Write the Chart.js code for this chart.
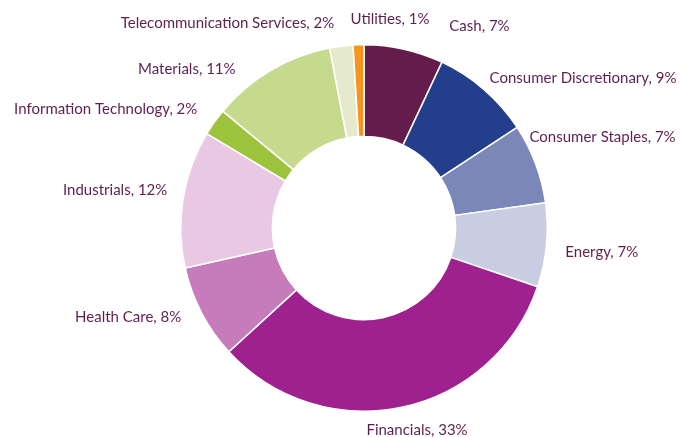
<!DOCTYPE html>
<html>
<head>
<meta charset="utf-8">
<script src="https://cdn.jsdelivr.net/npm/chart.js@4/dist/chart.umd.min.js"></script>
<style>
  html, body { margin: 0; padding: 0; background: #fff; }
</style>
</head>
<body>
<canvas id="sectorChart" width="681" height="437"></canvas>
<script>
const sectors = ['Cash', 'Consumer Discretionary', 'Consumer Staples', 'Energy', 'Financials',
    'Health Care', 'Industrials', 'Information Technology', 'Materials',
    'Telecommunication Services', 'Utilities'];
const weights = [7.0, 8.75, 7.05, 7.4, 33.0, 8.3, 12.1, 2.4, 11.0, 2.05, 0.95];
const sliceColors = ['#631c4b', '#233e8a', '#7a87b8', '#c8cde2', '#9e218e',
    '#c67bba', '#e9c8e3', '#9dc23c', '#c5da8c', '#e4eacb', '#f7941d'];

// small hand nudges so labels sit where the original put them
const labelNudge = [[72, -1], [-5, 6], [-21, -18], [3, 5], [12, 0],
    [-6, -6], [0, -5], [-4, 0], [-27, 19], [-5, 0], [32, -3]];

const outsideLabels = {
    id: 'outsideLabels',
    afterDatasetsDraw(chart) {
        const ctx = chart.ctx;
        const meta = chart.getDatasetMeta(0);
        const values = chart.data.datasets[0].data;
        ctx.save();
        ctx.font = '15px Lato';
        ctx.fillStyle = '#5e1f4f';
        ctx.textBaseline = 'middle';
        meta.data.forEach((arc, i) => {
            const p = arc.getProps(['x', 'y', 'startAngle', 'endAngle', 'outerRadius'], true);
            const mid = (p.startAngle + p.endAngle) / 2;
            const d = p.outerRadius + 16;
            const sx = Math.cos(mid);
            const sy = Math.sin(mid);
            const text = chart.data.labels[i] + ', ' + Math.round(values[i]) + '%';
            let tx = p.x + sx * d;
            let ty = p.y + sy * d + sy * 7;
            if (sx > 0.25) ctx.textAlign = 'left';
            else if (sx < -0.1) ctx.textAlign = 'right';
            else ctx.textAlign = 'center';
            const n = labelNudge[i] || [0, 0];
            ctx.fillText(text, tx + n[0], ty + n[1]);
        });
        ctx.restore();
    }
};

new Chart(document.getElementById('sectorChart').getContext('2d'), {
    type: 'doughnut',
    data: {
        labels: sectors,
        datasets: [{
            data: weights,
            backgroundColor: sliceColors,
            borderColor: '#ffffff',
            borderWidth: 1.5
        }]
    },
    options: {
        responsive: false,
        animation: false,
        cutout: '50%',
        layout: {
            padding: { left: 180, right: 133, top: 44, bottom: 25 }
        },
        plugins: {
            legend: { display: false },
            tooltip: { enabled: false }
        }
    },
    plugins: [outsideLabels]
});
</script>
</body>
</html>
